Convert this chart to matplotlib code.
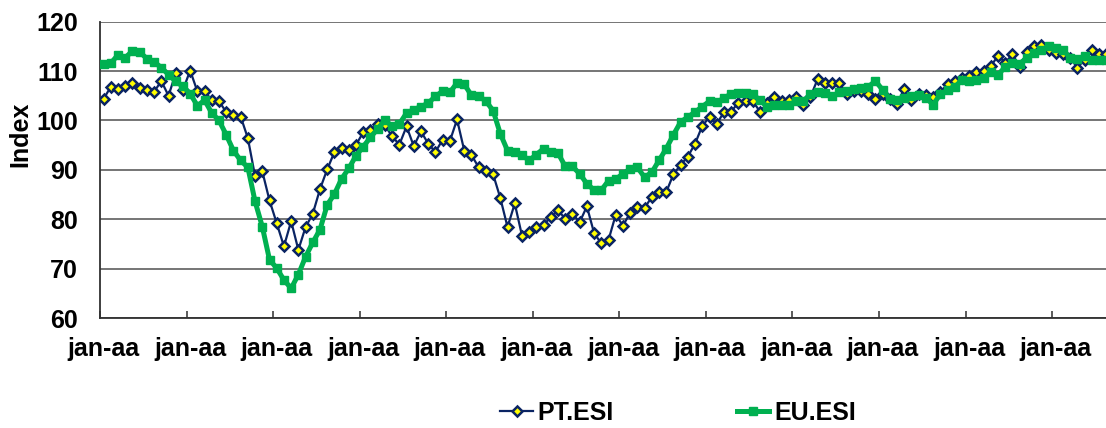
import numpy as np
import matplotlib.pyplot as plt

plt.rcParams['font.family'] = ['Liberation Sans', 'DejaVu Sans']
plt.rcParams['font.weight'] = 'bold'

# monthly values
pt_esi = [104.4, 106.8, 106.4, 107.0, 107.6, 106.6, 106.1, 105.8, 108.0, 105.0,
          109.6, 106.2, 110.1, 105.9, 105.9, 104.1, 103.9, 101.7, 101.2, 100.8,
          96.4, 88.7, 89.7, 83.8, 79.2, 74.5, 79.6, 73.8, 78.4, 81.1,
          86.1, 90.1, 93.6, 94.5, 94.1, 95.1, 97.6, 98.0, 99.3, 99.0,
          96.8, 95.1, 98.8, 94.8, 97.8, 95.3, 93.6, 96.1, 95.8, 100.2,
          93.9, 93.0, 90.5, 89.7, 89.1, 84.3, 78.4, 83.2, 76.7, 77.4,
          78.5, 78.9, 80.4, 81.8, 80.1, 81.1, 79.4, 82.6, 77.2, 75.1,
          75.8, 80.9, 78.7, 81.3, 82.4, 82.3, 84.5, 85.6, 85.5, 89.1,
          91.0, 92.7, 95.3, 98.9, 100.7, 99.3, 101.7, 101.8, 103.6, 103.9,
          103.9, 101.8, 103.5, 104.7, 103.9, 104.1, 104.7, 103.2, 104.8, 108.4,
          107.6, 107.6, 107.6, 105.4, 105.9, 105.9, 105.3, 104.3, 105.4, 104.4,
          103.4, 106.4, 104.2, 105.4, 105.1, 104.7, 105.7, 107.4, 108.0, 108.6,
          109.1, 109.9, 110.1, 111.0, 113.1, 111.7, 113.4, 110.9, 113.8, 115.0,
          115.3, 114.3, 113.7, 113.5, 112.7, 110.7, 112.3, 114.3, 113.5, 113.5]

eu_esi = [111.4, 111.6, 113.3, 112.7, 114.1, 113.9, 112.5, 111.9, 110.7, 109.3,
          107.9, 106.9, 105.4, 103.0, 104.1, 101.5, 100.0, 97.1, 93.9, 91.9,
          90.5, 83.6, 78.5, 71.8, 70.1, 67.7, 66.0, 68.8, 72.4, 75.3,
          77.9, 82.9, 85.1, 88.2, 90.3, 92.9, 94.7, 96.6, 98.3, 100.1,
          98.8, 99.3, 101.5, 102.2, 102.8, 103.5, 104.9, 105.9, 105.7, 107.6,
          107.3, 105.1, 105.0, 103.9, 102.0, 97.3, 93.9, 93.7, 93.0, 91.9,
          93.1, 94.3, 93.6, 93.4, 90.7, 90.7, 89.2, 87.2, 85.9, 85.9,
          87.8, 88.1, 89.2, 90.2, 90.5, 88.5, 89.5, 91.9, 94.3, 97.1,
          99.7, 100.7, 101.7, 102.8, 103.9, 103.7, 104.5, 105.4, 105.5, 105.5,
          105.3, 104.1, 102.8, 103.2, 103.2, 103.2, 103.9, 103.9, 105.3, 105.7,
          105.5, 104.9, 105.7, 105.9, 106.4, 106.6, 106.8, 108.0, 106.2, 104.4,
          104.1, 104.6, 104.9, 105.1, 104.6, 103.2, 105.3, 106.1, 106.8, 108.2,
          107.9, 108.2, 108.6, 109.8, 109.3, 110.8, 111.7, 111.5, 112.7, 113.6,
          114.3, 115.0, 114.7, 114.3, 112.7, 112.5, 113.0, 112.3, 112.3, 112.3]

year_labels = ['jan-aa'] * 12
y_ticks = [60, 70, 80, 90, 100, 110, 120]

x = np.arange(len(pt_esi))

fig = plt.figure(figsize=(11.06, 4.28), dpi=100)
ax = fig.add_axes([100/1106, 1 - 318/428, 1006/1106, (318 - 21.7)/428])

ax.plot(x, pt_esi, color='#0a2463', lw=1.6, marker='D', ms=4.6,
        mfc='#ffff00', mec='#0a2463', mew=1.8, label='PT.ESI', zorder=3)
ax.plot(x, eu_esi, color='#00b050', lw=3.6, marker='s', ms=6,
        mfc='#00b050', mec='#00b050', label='EU.ESI', zorder=4)

ax.set_ylim(60, 120)
ax.set_xlim(-0.5, 138.97)
ax.set_yticks(y_ticks)
ax.yaxis.grid(True, color='#505050', lw=1.1)
ax.set_axisbelow(True)
ax.tick_params(axis='y', length=0, pad=16, labelsize=18)

# tick marks between years, labels on first month
ax.set_xticks(np.arange(12) * 12 - 0.5)
ax.set_xticklabels([])
ax.set_xticks(np.arange(12) * 12, minor=True)
ax.set_xticklabels(year_labels, minor=True)
ax.tick_params(axis='x', which='major', direction='in', length=5, width=1.2, color='#404040')
ax.tick_params(axis='x', which='minor', length=0, pad=14, labelsize=18)

for s in ['top', 'right']:
    ax.spines[s].set_visible(False)
for s in ['left', 'bottom']:
    ax.spines[s].set_color('#303030')
    ax.spines[s].set_linewidth(1.3)

ax.set_ylabel('Index', fontsize=18, fontweight='bold')
ax.yaxis.set_label_coords(-68/1006, 0.62)

fig.legend(loc='center', bbox_to_anchor=(678/1106, 1 - 413/428), ncol=2,
           frameon=False, fontsize=18, handlelength=1.3, handletextpad=0.2,
           columnspacing=4.9)

plt.savefig('out.png', dpi=100)
